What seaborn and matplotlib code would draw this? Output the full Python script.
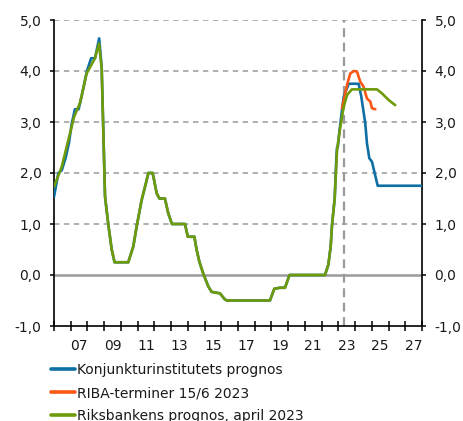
import matplotlib
matplotlib.use("Agg")
import matplotlib.pyplot as plt
from matplotlib.ticker import FixedLocator, NullFormatter
import seaborn as sns

# --- data -----------------------------------------------------------------
# Repo rate history, monthly-ish (Konjunkturinstitutet series), 2006-2008
ki_early_years = [2006.00, 2006.26, 2006.46, 2006.70, 2006.90, 2007.05, 2007.25, 2007.47,
                  2007.65, 2007.97, 2008.22, 2008.45, 2008.70, 2008.85]
ki_early_rate = [1.53, 2.00, 2.05, 2.30, 2.60, 2.95, 3.25, 3.25,
                 3.50, 4.00, 4.25, 4.25, 4.64, 4.08]

# Quarterly history (Riksbanken series), 2006-2008
rb_early_years = [2006.00, 2006.46, 2007.20, 2007.55, 2007.95, 2008.45, 2008.69, 2008.85]
rb_early_rate = [1.73, 2.12, 3.10, 3.37, 3.95, 4.25, 4.54, 4.05]

# Shared repo rate history 2009-2022
hist_years = [2009.05, 2009.25, 2009.45, 2009.62, 2010.44, 2010.74, 2010.94, 2011.24,
              2011.54, 2011.64, 2011.90, 2012.14, 2012.30, 2012.63, 2012.83, 2013.05,
              2013.83, 2014.00, 2014.39, 2014.53, 2014.69, 2014.93, 2015.22, 2015.42,
              2015.92, 2016.22, 2016.35, 2018.91, 2019.17, 2019.51, 2019.81, 2020.08,
              2022.20, 2022.40, 2022.54, 2022.62, 2022.78]
hist_rate = [1.54, 0.98, 0.50, 0.25, 0.25, 0.56, 0.95, 1.47,
             1.86, 2.00, 2.00, 1.60, 1.50, 1.50, 1.21, 1.00,
             1.00, 0.75, 0.75, 0.49, 0.26, 0.02, -0.22, -0.33,
             -0.36, -0.48, -0.50, -0.50, -0.27, -0.25, -0.25, 0.00,
             0.00, 0.20, 0.56, 0.98, 1.50]

# Konjunkturinstitutets prognos
ki_fc_years = [2022.88, 2022.92, 2022.97, 2023.05, 2023.22, 2023.32, 2023.62, 2024.21,
               2024.37, 2024.61, 2024.71, 2024.85, 2025.01, 2025.35, 2028.00]
ki_fc_rate = [2.30, 2.50, 2.52, 2.78, 3.24, 3.50, 3.75, 3.75,
              3.50, 2.97, 2.58, 2.29, 2.22, 1.75, 1.75]

# RIBA-terminer 15/6 2023
riba_years = [2023.22, 2023.52, 2023.71, 2023.92, 2024.11, 2024.31, 2024.51, 2024.71,
              2024.91, 2025.01, 2025.21]
riba_rate = [3.27, 3.73, 3.95, 4.00, 3.99, 3.79, 3.69, 3.46, 3.40, 3.27, 3.25]

# Riksbankens prognos, april 2023
rb_fc_years = [2022.92, 2023.12, 2023.32, 2023.52, 2023.81, 2025.31, 2025.61, 2026.01, 2026.40]
rb_fc_rate = [2.45, 2.91, 3.30, 3.53, 3.64, 3.64, 3.56, 3.43, 3.33]

labels = ["Konjunkturinstitutets prognos", "RIBA-terminer 15/6 2023",
          "Riksbankens prognos, april 2023"]
colors = ["#0e6fa5", "#fa5614", "#6f9b0a"]

year_ticks = list(range(2006, 2029))
year_label_pos = [y + 0.5 for y in range(2007, 2028, 2)]
year_labels = ["07", "09", "11", "13", "15", "17", "19", "21", "23", "25", "27"]
y_ticks = [-1, 0, 1, 2, 3, 4, 5]
y_labels = ["-1,0", "0,0", "1,0", "2,0", "3,0", "4,0", "5,0"]
forecast_start = 2023.33

# --- figure ---------------------------------------------------------------
sns.set_theme(style="white")
plt.rcParams["font.family"] = ["DejaVu Sans"]
plt.rcParams["font.size"] = 10

fig = plt.figure(figsize=(4.64, 4.21), dpi=100)
ax = fig.add_axes([54 / 464, 1 - 326 / 421, (422 - 54) / 464, (326 - 20) / 421])

grid_col = "#9a9a9a"
for v in [1, 2, 3, 4, 5]:
    ax.axhline(v, color=grid_col, lw=1.1, ls=(0, (3.5, 3)), zorder=1)
ax.axhline(0, color=grid_col, lw=1.8, zorder=1)
ax.axvline(forecast_start, color=grid_col, lw=1.6, ls=(0, (4, 2.5)), zorder=1)

lw = 1.9
ki_x = ki_early_years + hist_years + ki_fc_years
ki_y = ki_early_rate + hist_rate + ki_fc_rate
rb_x = rb_early_years + hist_years + rb_fc_years
rb_y = rb_early_rate + hist_rate + rb_fc_rate

sns.lineplot(x=ki_x, y=ki_y, ax=ax, color=colors[0], lw=lw, estimator=None,
             sort=False, label=labels[0], zorder=3)
sns.lineplot(x=riba_years, y=riba_rate, ax=ax, color=colors[1], lw=lw, estimator=None,
             sort=False, label=labels[1], zorder=4)
sns.lineplot(x=rb_x, y=rb_y, ax=ax, color=colors[2], lw=lw, estimator=None,
             sort=False, label=labels[2], zorder=5)

ax.set_xlim(2006, 2028)
ax.set_ylim(-1, 5)

# x axis: year ticks at boundaries, labels centred in the year
ax.xaxis.set_major_locator(FixedLocator(year_ticks))
ax.xaxis.set_major_formatter(NullFormatter())
ax.xaxis.set_minor_locator(FixedLocator(year_label_pos))
ax.set_xticklabels(year_labels, minor=True)
ax.tick_params(axis="x", which="major", direction="inout", length=6.5, width=1.1,
               color="black", bottom=True)
ax.tick_params(axis="x", which="minor", length=0, pad=9.5, labelsize=10,
               labelcolor="#1a1a1a", bottom=True)

ax.set_yticks(y_ticks)
ax.set_yticklabels(y_labels)
ax.tick_params(axis="y", which="major", direction="out", length=3, width=1.1,
               color="black", left=True, right=True, labelleft=True, labelright=True,
               pad=6, labelsize=10, labelcolor="#1a1a1a")

for side in ["left", "right", "bottom"]:
    ax.spines[side].set_visible(True)
    ax.spines[side].set_color("black")
    ax.spines[side].set_linewidth(1.2)
ax.spines["top"].set_visible(False)
ax.set_xlabel("")
ax.set_ylabel("")

handles, labs = ax.get_legend_handles_labels()
ax.get_legend().remove()
leg = fig.legend(handles, labs, loc="upper left", bbox_to_anchor=(51 / 464, 1 - 363 / 421),
                 frameon=False, handlelength=1.75, handletextpad=0.15, labelspacing=0.66,
                 borderpad=0, borderaxespad=0, fontsize=10)
for line in leg.get_lines():
    line.set_linewidth(2.6)
for t in leg.get_texts():
    t.set_color("#1a1a1a")

fig.savefig("out.png", dpi=100)
